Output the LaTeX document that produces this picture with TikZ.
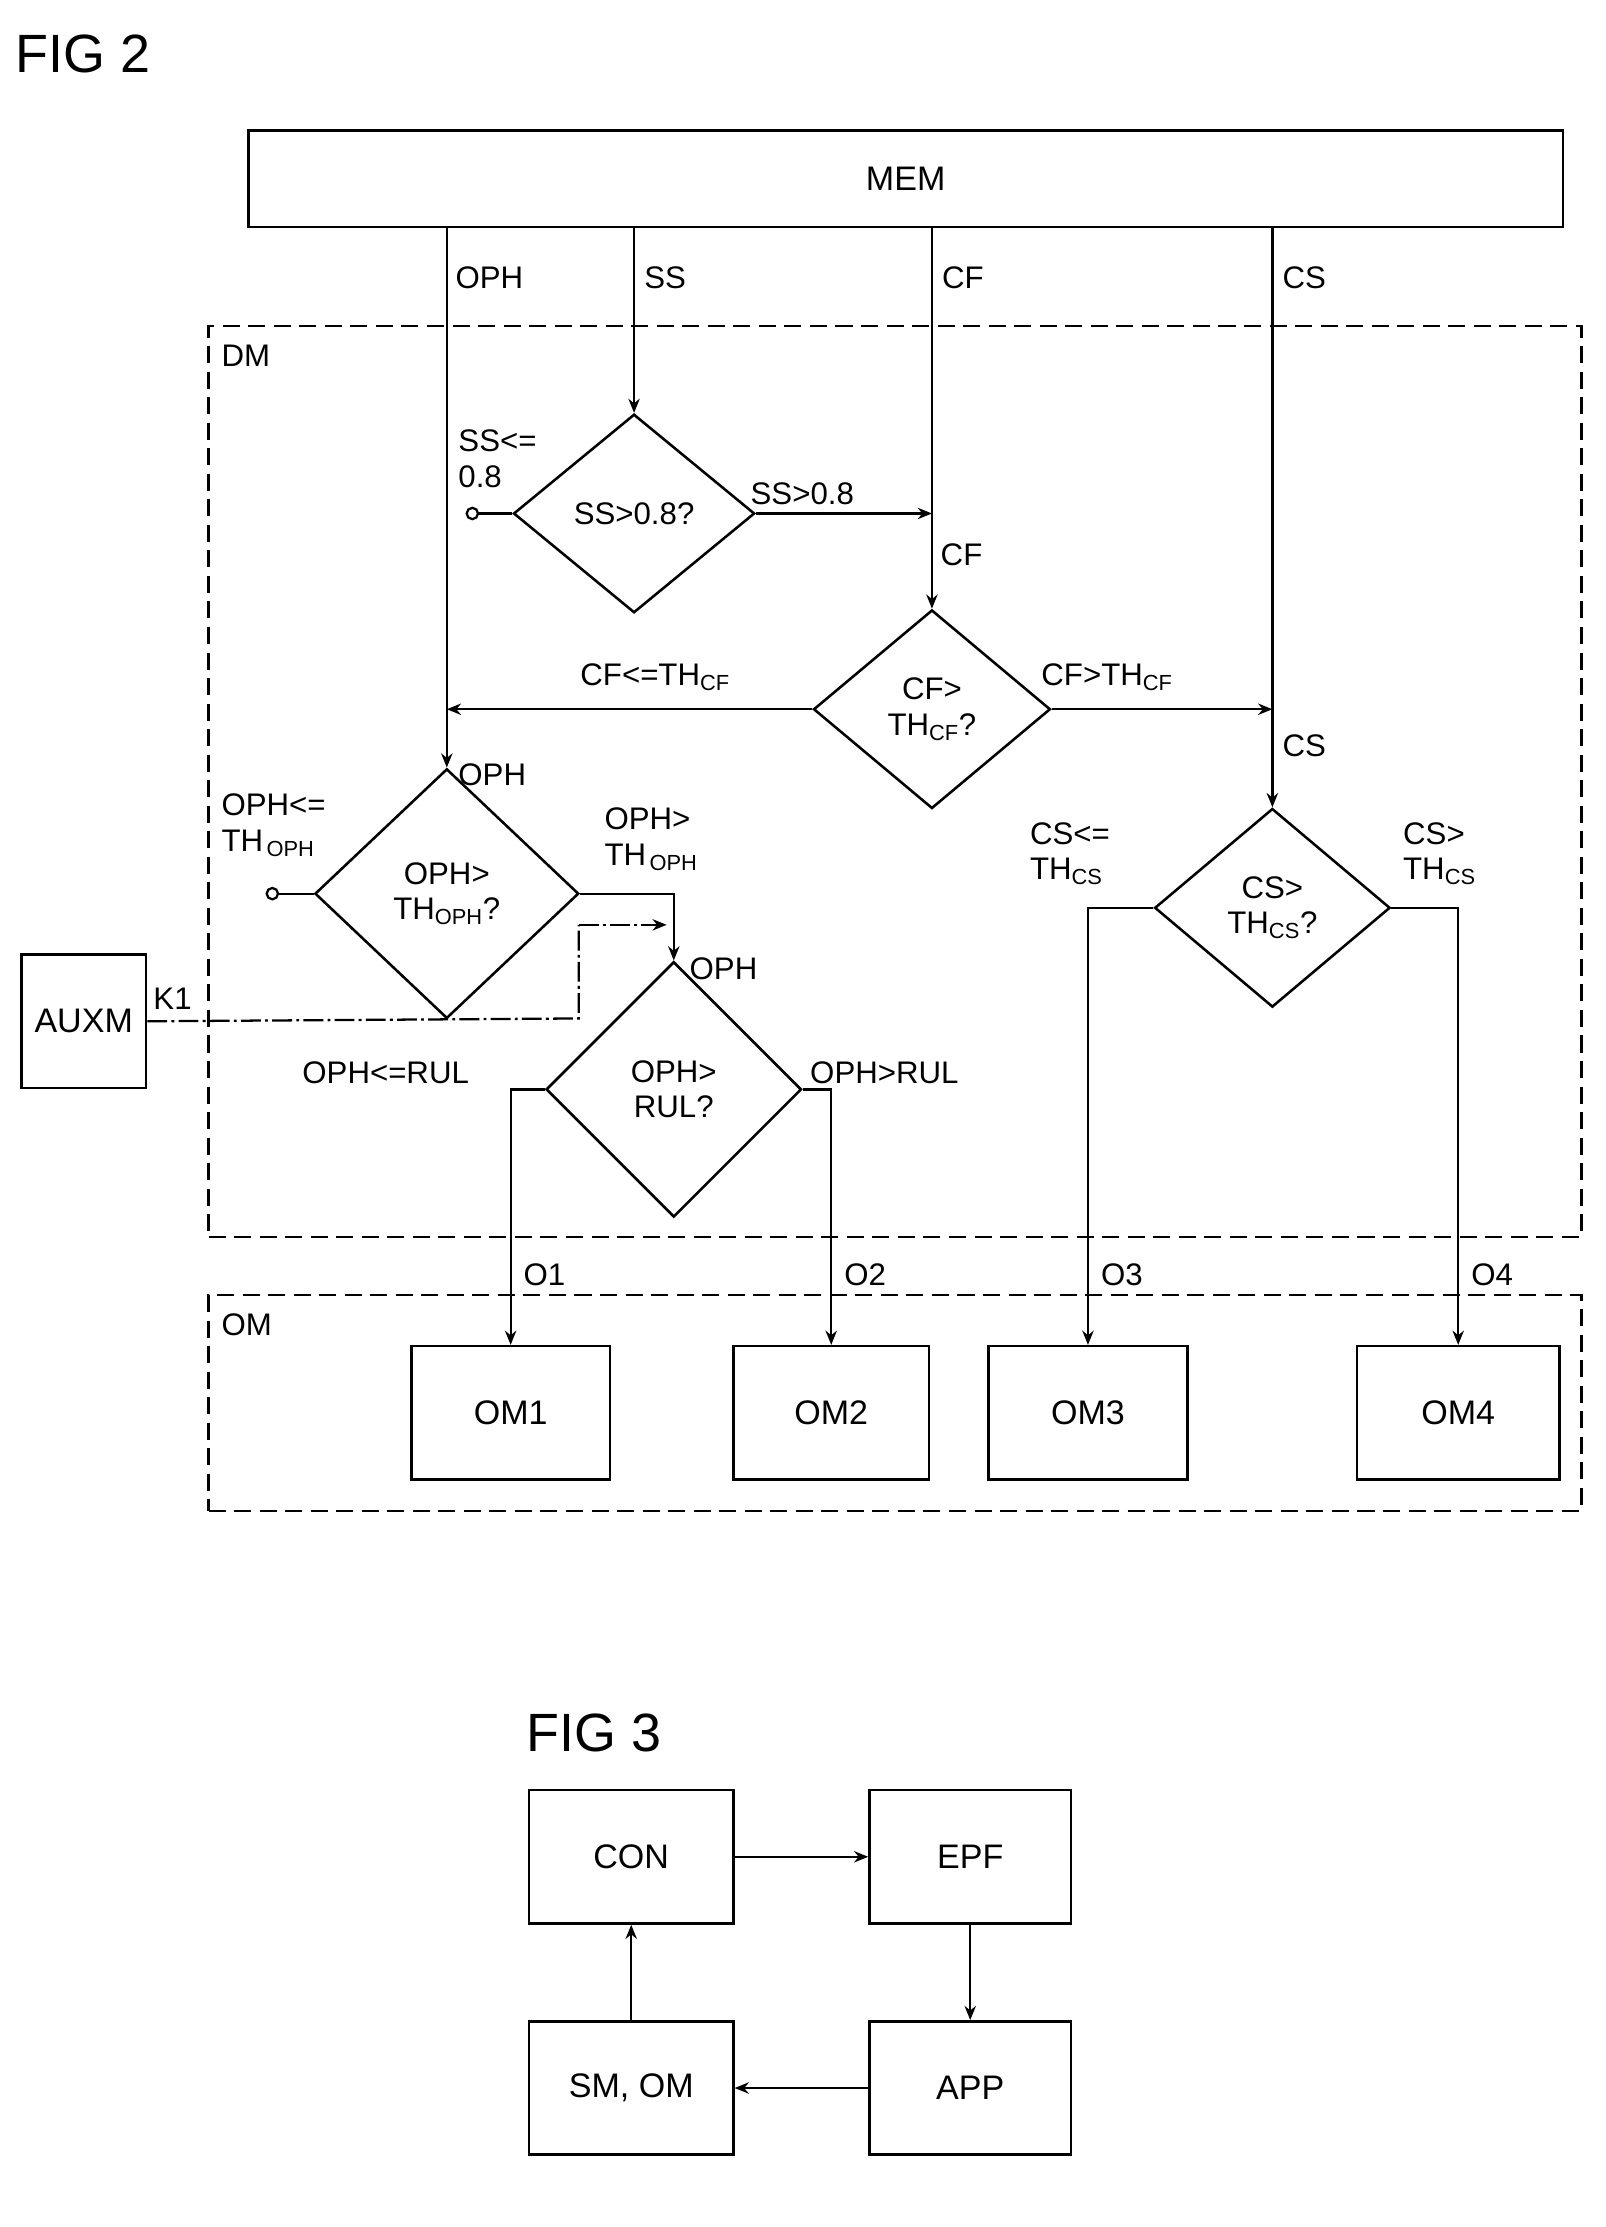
\documentclass[tikz,border=0pt]{standalone}
\usepackage{fontspec}
\setmainfont{Liberation Sans}
\usetikzlibrary{shapes.geometric,arrows.meta}
\begin{document}
\begin{tikzpicture}[x=1pt,y=-1pt,
  every node/.style={font=\fontsize{22}{25}\selectfont,inner sep=1pt},
  box/.style={draw,line width=1.8pt,minimum width=#1,minimum height=94pt,font=\fontsize{24}{28}\selectfont},
  dia/.style={draw,diamond,line width=1.8pt,align=center,inner sep=0pt},
  ln/.style={line width=1.6pt},
  ar/.style={ln,-{Stealth[length=10pt,width=8pt]}},
  dbox/.style={draw,line width=1.6pt,dash pattern=on 12pt off 6pt},
  lab/.style={align=left,anchor=south west}]
\useasboundingbox (0,0) rectangle (1132,1570);
\node[font=\fontsize{38}{44}\selectfont,anchor=west] (f2) at (10,38) {FIG 2};
\node[draw,line width=1.8pt,minimum width=927pt,minimum height=68pt,font=\fontsize{24}{28}\selectfont] (mem) at (638.5,126) {MEM};
\node[dbox,minimum width=968pt,minimum height=642pt] (dm) at (631,551) {};
\node[anchor=north west] (dml) at (155,242) {DM};
\node[dbox,minimum width=968pt,minimum height=152pt] (om) at (631,989) {};
\node[anchor=north west] (oml) at (155,925) {OM};
% diamonds
\node[dia,minimum width=170pt,minimum height=140pt] (d1) at (447,362) {SS>0.8?};
\node[dia,minimum width=167pt,minimum height=140pt] (d2) at (657,500) {CF>\\TH$_{\mathrm{CF}}$?};
\node[dia,minimum width=186pt,minimum height=176pt] (d3) at (315,630) {OPH>\\TH$_{\mathrm{OPH}}$?};
\node[dia,minimum width=180pt,minimum height=180pt] (d4) at (475,768) {OPH>\\RUL?};
\node[dia,minimum width=166pt,minimum height=140pt] (d5) at (897,640) {CS>\\TH$_{\mathrm{CS}}$?};
% boxes
\node[box=140pt] (om1) at (360,996) {OM1};
\node[box=138pt] (om2) at (586,996) {OM2};
\node[box=140pt] (om3) at (767,996) {OM3};
\node[box=143pt] (om4) at (1028,996) {OM4};
\node[box=88pt] (aux) at (59,720) {AUXM};
% coordinates
\coordinate (c1) at (333,362);
\coordinate (c3) at (192,630);
\draw[ln] (c1) circle (4pt); \draw[ln] (c3) circle (4pt);
\draw[ln] (d1.west) -- ([xshift=4pt]c1);
\draw[ln] (d3.west) -- ([xshift=4pt]c3);
% from MEM
\draw[ln] (315,160) -- (315,500);
\draw[ar] (315,500) -- (d3.north);
\draw[ar] (447,160) -- (d1.north);
\draw[ln] (657,160) -- (657,362);
\draw[ar] (657,362) -- (d2.north);
\draw[ln] (897,160) -- (897,500);
\draw[ar] (897,500) -- (d5.north);
\draw[ar] (d1.east) -- (657,362);
\draw[ar] (d2.west) -- (315,500);
\draw[ar] (d2.east) -- (897,500);
\draw[ar] (d3.east) -- (d3.east -| d4.north) -- (d4.north);
\draw[ln,dash pattern=on 14pt off 3pt on 2pt off 3pt] (aux.east) -- (408,718) -- (408,652);
\draw[ar,dash pattern=on 14pt off 3pt on 2pt off 3pt] (408,652) -- (470,652);
\draw[ar] (d4.west) -- (d4.west -| om1.north) -- (om1.north);
\draw[ar] (d4.east) -- (d4.east -| om2.north) -- (om2.north);
\draw[ar] (d5.west) -- (d5.west -| om3.north) -- (om3.north);
\draw[ar] (d5.east) -- (d5.east -| om4.north) -- (om4.north);
% labels
\node[lab] at (320,205) {OPH};
\node[lab] at (453,205) {SS};
\node[lab] at (663,205) {CF};
\node[lab] at (903,205) {CS};
\node[lab] at (322,345) {SS<=\\0.8};
\node[lab] at (528,357) {SS>0.8};
\node[lab] at (662,400) {CF};
\node[lab] at (408,488) {CF<=TH$_{\mathrm{CF}}$};
\node[lab] at (733,488) {CF>TH$_{\mathrm{CF}}$};
\node[lab] at (903,535) {CS};
\node[lab] at (322,555) {OPH};
\node[lab] at (155,605) {OPH<=\\TH$_{\,\mathrm{OPH}}$};
\node[lab] at (425,615) {OPH>\\TH$_{\,\mathrm{OPH}}$};
\node[lab] at (485,692) {OPH};
\node[lab] at (107,713) {K1};
\node[lab] at (212,765) {OPH<=RUL};
\node[lab] at (570,765) {OPH>RUL};
\node[lab] at (725,625) {CS<=\\TH$_{\mathrm{CS}}$};
\node[lab] at (988,625) {CS>\\TH$_{\mathrm{CS}}$};
\node[lab] at (368,908) {O1};
\node[lab] at (594,908) {O2};
\node[lab] at (775,908) {O3};
\node[lab] at (1036,908) {O4};
% FIG 3
\node[font=\fontsize{38}{44}\selectfont,anchor=west] (f3) at (370,1222) {FIG 3};
\node[box=144pt] (con) at (445,1309) {CON};
\node[box=142pt] (epf) at (684,1309) {EPF};
\node[box=144pt] (sm) at (445,1472) {SM, OM};
\node[box=142pt] (app) at (684,1472) {APP};
\draw[ar] (con) -- (epf);
\draw[ar] (epf) -- (app);
\draw[ar] (app) -- (sm);
\draw[ar] (sm) -- (con);
\end{tikzpicture}
\end{document}
